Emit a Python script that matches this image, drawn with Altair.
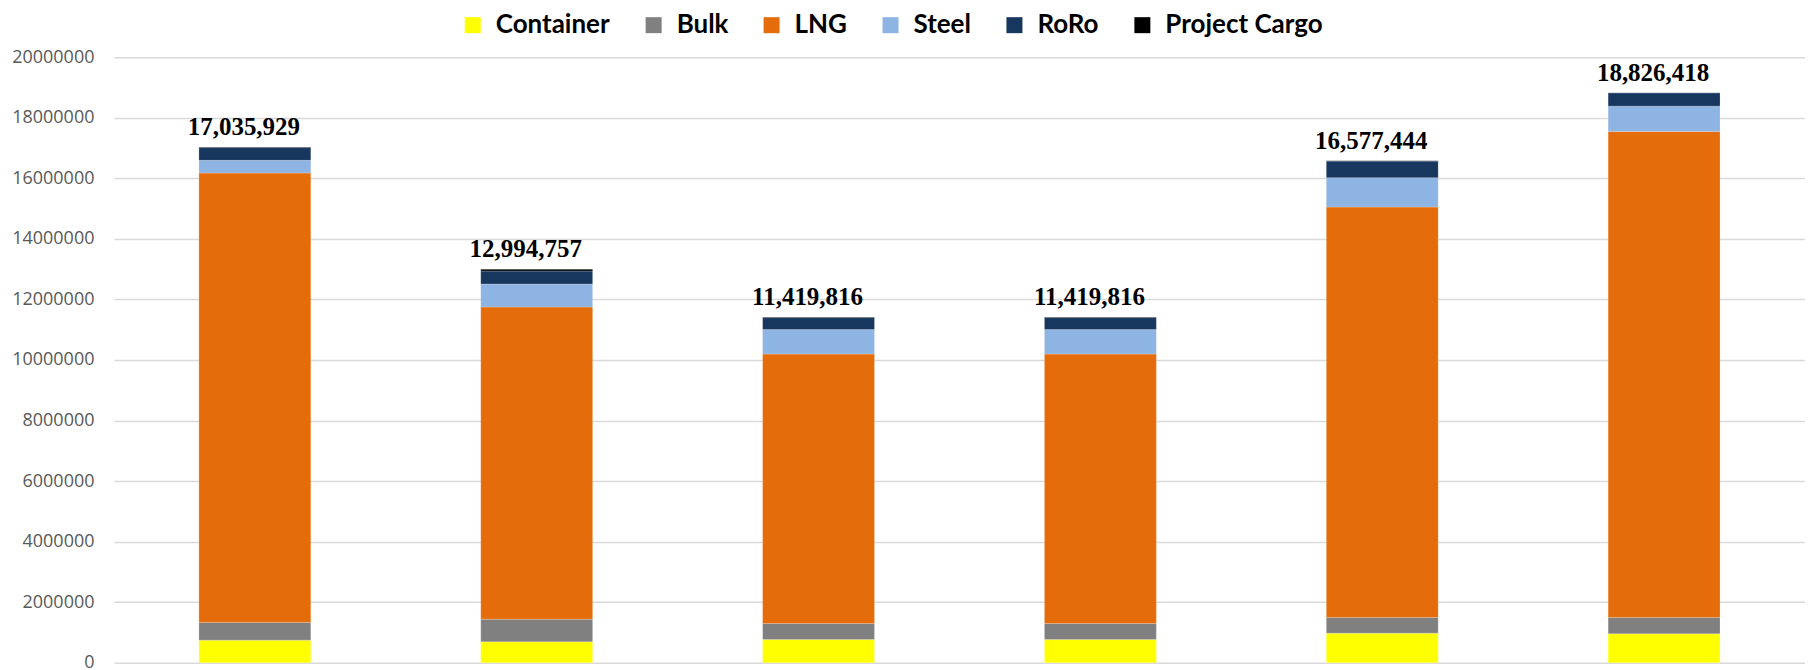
import altair as alt
import pandas as pd

periods = ["P1", "P2", "P3", "P4", "P5", "P6"]
series = ["Container", "Bulk", "LNG", "Steel", "RoRo", "Project Cargo"]
colors = ["#FFFF00", "#808080", "#E46C0A", "#8EB4E3", "#17375E", "#000000"]

container = [749000, 693000, 772000, 772000, 980000, 957000]
bulk = [584000, 749000, 528000, 528000, 518000, 541000]
lng = [14840000, 10307000, 8895000, 8895000, 13551000, 16050000]
steel = [420000, 759000, 808000, 808000, 971000, 835000]
roro = [420000, 429000, 397000, 397000, 547000, 442000]
project_cargo = [22929, 57757, 19816, 19816, 10444, 1418]
totals = [17035929, 12994757, 11419816, 11419816, 16577444, 18826418]

values = [container, bulk, lng, steel, roro, project_cargo]
rows = []
for si, (name, vals) in enumerate(zip(series, values)):
    for p, v in zip(periods, vals):
        rows.append({"period": p, "series": name, "value": v, "order": si})
df = pd.DataFrame(rows)
tot = pd.DataFrame({"period": periods, "total": totals,
                    "label": [f"{t:,}" for t in totals]})

x_enc = alt.X("period:N", sort=periods, title=None,
              scale=alt.Scale(paddingInner=0.603, paddingOuter=0.3015),
              axis=alt.Axis(labels=False, ticks=False, domain=False, grid=False))

bars = alt.Chart(df).mark_bar(stroke="#ffffff", strokeWidth=0.4, strokeOpacity=0.5).encode(
    x=x_enc,
    y=alt.Y("value:Q", stack="zero", title=None,
            scale=alt.Scale(domain=[0, 20000000], nice=False),
            axis=alt.Axis(values=list(range(0, 20000001, 2000000)), format="d",
                          ticks=False, domain=False, labelPadding=20,
                          labelFont="Open Sans", labelFontSize=18,
                          labelColor="#595959", gridColor="#d9d9d9", gridWidth=1.5)),
    color=alt.Color("series:N", sort=series,
                    scale=alt.Scale(domain=series, range=colors),
                    legend=alt.Legend(orient="none", direction="horizontal",
                                      legendX=346, legendY=-45, title=None,
                                      symbolType="square", symbolSize=256,
                                      symbolStrokeWidth=0, labelFont="Lato",
                                      labelFontWeight="bold", labelFontSize=26,
                                      labelColor="#000000", labelOffset=10,
                                      labelLimit=400,
                                      columnPadding=30, padding=0)),
    order=alt.Order("order:Q", sort="ascending"),
)

labels = alt.Chart(tot).mark_text(font="Liberation Serif", fontWeight="bold",
                                  fontSize=25, baseline="alphabetic", dy=-12, dx=-11,
                                  color="#000000").encode(
    x=alt.X("period:N", sort=periods),
    y=alt.Y("total:Q"),
    text="label:N",
)

chart = alt.layer(bars, labels).properties(
    width=1692, height=606,
    autosize=alt.AutoSizeParams(type="none"),
    padding={"left": 106, "top": 49, "right": 0, "bottom": 12},
).configure_view(stroke=None)

chart.save("out.html", embed_options={"renderer": "svg", "actions": False})
